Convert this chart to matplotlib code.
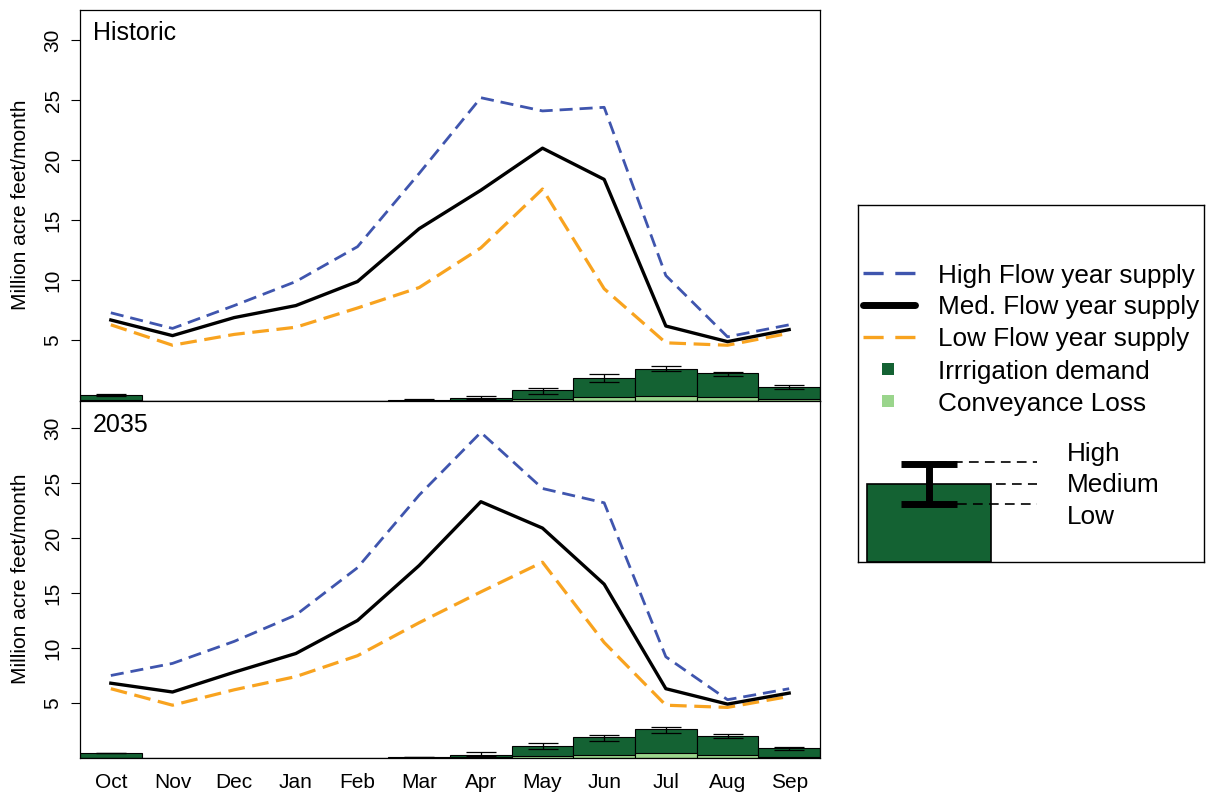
import numpy as np
import matplotlib
matplotlib.use("Agg")
import matplotlib.pyplot as plt
from matplotlib.patches import Rectangle

plt.rcParams['font.family'] = ['Liberation Sans', 'DejaVu Sans']
plt.rcParams['lines.scale_dashes'] = False

# ---------------- data ----------------
months = ['Oct', 'Nov', 'Dec', 'Jan', 'Feb', 'Mar', 'Apr', 'May', 'Jun', 'Jul', 'Aug', 'Sep']
yticks = [5, 10, 15, 20, 25, 30]

hist_high = [7.3, 6.0, 7.9, 9.9, 12.8, 18.9, 25.2, 24.1, 24.4, 10.4, 5.3, 6.3]
hist_med = [6.7, 5.4, 6.9, 7.9, 9.9, 14.3, 17.5, 21.0, 18.4, 6.2, 4.9, 5.9]
hist_low = [6.3, 4.6, 5.5, 6.1, 7.7, 9.4, 12.7, 17.6, 9.3, 4.8, 4.6, 5.6]

hist_dem_med = [0.44, 0, 0, 0, 0, 0.08, 0.22, 0.86, 1.91, 2.65, 2.27, 1.16]
hist_dem_high = [0.52, 0, 0, 0, 0, 0.10, 0.36, 1.08, 2.21, 2.90, 2.40, 1.27]
hist_dem_low = [0.40, 0, 0, 0, 0, 0.06, 0.12, 0.58, 1.52, 2.43, 2.05, 0.94]
hist_conv = [0.03, 0, 0, 0, 0, 0.0, 0.05, 0.12, 0.25, 0.40, 0.33, 0.12]

fut_high = [7.5, 8.6, 10.6, 13.0, 17.3, 23.9, 29.6, 24.5, 23.2, 9.2, 5.3, 6.3]
fut_med = [6.8, 6.0, 7.8, 9.5, 12.5, 17.5, 23.3, 20.9, 15.8, 6.3, 4.9, 5.9]
fut_low = [6.3, 4.8, 6.2, 7.4, 9.3, 12.3, 15.1, 17.8, 10.5, 4.8, 4.6, 5.6]

fut_dem_med = [0.45, 0, 0, 0, 0, 0.06, 0.30, 1.06, 1.88, 2.60, 1.97, 0.94]
fut_dem_high = [0.50, 0, 0, 0, 0, 0.08, 0.52, 1.33, 2.12, 2.80, 2.15, 1.03]
fut_dem_low = [0.42, 0, 0, 0, 0, 0.05, 0.20, 0.79, 1.55, 2.30, 1.79, 0.76]
fut_conv = [0.03, 0, 0, 0, 0, 0.0, 0.05, 0.15, 0.25, 0.42, 0.27, 0.12]

# ---------------- style ----------------
BLUE = '#3F55AE'
ORANGE = '#F8A31F'
DKGREEN = '#146233'
LTGREEN = '#9AD58C'

W, H = 1207, 792
fig = plt.figure(figsize=(W / 100, H / 100), dpi=100)


def px_axes(l, t, r, b):
    return fig.add_axes([l / W, 1 - b / H, (r - l) / W, (b - t) / H])


def draw_panel(ax, high, med, low, dmed, dhigh, dlow, conv, label, label_y, show_x):
    x = np.arange(len(months))
    dmed = np.array(dmed); dhigh = np.array(dhigh); dlow = np.array(dlow)
    ax.bar(x, dmed, width=1.0, color=DKGREEN, edgecolor='black', linewidth=0.8, zorder=2)
    ax.bar(x, conv, width=1.0, color=LTGREEN, edgecolor='black', linewidth=0.8, zorder=2)
    m = dmed > 0
    ax.errorbar(x[m], dmed[m], yerr=[dmed[m] - dlow[m], dhigh[m] - dmed[m]], fmt='none',
                ecolor='black', elinewidth=0.9, capsize=11, capthick=0.9, zorder=3)
    ax.plot(x, high, color=BLUE, lw=2.0, dashes=(9.4, 5.0), zorder=4)
    ax.plot(x, med, color='black', lw=2.4, zorder=5)
    ax.plot(x, low, color=ORANGE, lw=2.3, dashes=(12, 5.5), zorder=4)
    ax.set_xlim(-0.5, len(months) - 0.5)
    ax.set_ylim(0, 32.5)
    ax.set_yticks(yticks)
    ax.set_yticklabels([str(v) for v in yticks], fontsize=15)
    for t in ax.get_yticklabels():
        t.set_rotation(90)
        t.set_va('center')
        t.set_ha('right')
    ax.tick_params(axis='y', length=6.5, width=0.8, pad=6)
    if show_x:
        ax.set_xticks(x)
        ax.set_xticklabels(months, fontsize=15)
        ax.tick_params(axis='x', length=0, pad=11)
    else:
        ax.set_xticks([])
    for s in ax.spines.values():
        s.set_linewidth(0.9)
    ax.set_ylabel('Million acre feet/month', fontsize=15, va='center', ha='center')
    ax.yaxis.set_label_coords(-0.081, 0.5)
    ax.text(0.0176, label_y, label, transform=ax.transAxes, fontsize=18, va='baseline', ha='left')


ax1 = px_axes(80, 10, 820, 400.5)
ax2 = px_axes(80, 400.5, 820, 758)
draw_panel(ax1, hist_high, hist_med, hist_low, hist_dem_med, hist_dem_high, hist_dem_low,
           hist_conv, 'Historic', 0.923, False)
draw_panel(ax2, fut_high, fut_med, fut_low, fut_dem_med, fut_dem_high, fut_dem_low,
           fut_conv, '2035', 0.9115, True)

# ---------------- legend (drawn in pixel-like coordinates) ----------------
L, T, R, B = 858, 205, 1204, 561.7
axl = px_axes(L, T, R, B)
axl.set_xlim(L, R)
axl.set_ylim(B, T)
axl.set_xticks([]); axl.set_yticks([])
for s in axl.spines.values():
    s.set_linewidth(1.0)

rows = [273, 304.5, 336.5, 369, 401]
labels = ['High Flow year supply', 'Med. Flow year supply', 'Low Flow year supply',
          'Irrrigation demand', 'Conveyance Loss']
axl.plot([863, 915], [rows[0]] * 2, color=BLUE, lw=2.4, dashes=(14.5, 8.4), solid_capstyle='butt')
axl.plot([863, 915], [rows[1]] * 2, color='black', lw=5, solid_capstyle='round')
axl.plot([863, 915], [rows[2]] * 2, color=ORANGE, lw=2.4, dashes=(14.5, 8.4))
axl.plot([888], [rows[3]], marker='s', ms=9, color=DKGREEN, mew=0)
axl.plot([888], [rows[4]], marker='s', ms=9, color=LTGREEN, mew=0)
for ry, lab in zip(rows, labels):
    axl.text(937.7, ry + 9.5, lab, fontsize=18.8, va='baseline', ha='left')

axl.add_patch(Rectangle((867, 483.5), 124, B - 483.5, facecolor=DKGREEN, edgecolor='black', lw=1.2, zorder=2))
axl.plot([929, 929], [464, 503.5], color='black', lw=5, solid_capstyle='butt', zorder=4)
axl.plot([901, 957], [464, 464], color='black', lw=5, solid_capstyle='butt', zorder=4)
axl.plot([901, 957], [503.5, 503.5], color='black', lw=5, solid_capstyle='butt', zorder=4)
axl.plot([937, 1037], [462, 462], color='black', lw=1.2, dashes=(7, 4.5), zorder=3)
axl.plot([996, 1037], [483.5, 483.5], color='black', lw=1.2, dashes=(7, 4.5), zorder=3)
axl.plot([957, 1037], [504, 504], color='black', lw=1.2, dashes=(7, 4.5), zorder=3)
for yb, lab in zip([460.7, 492, 524], ['High', 'Medium', 'Low']):
    axl.text(1067, yb, lab, fontsize=18.8, va='baseline', ha='left')

fig.savefig('out.png', dpi=100)
